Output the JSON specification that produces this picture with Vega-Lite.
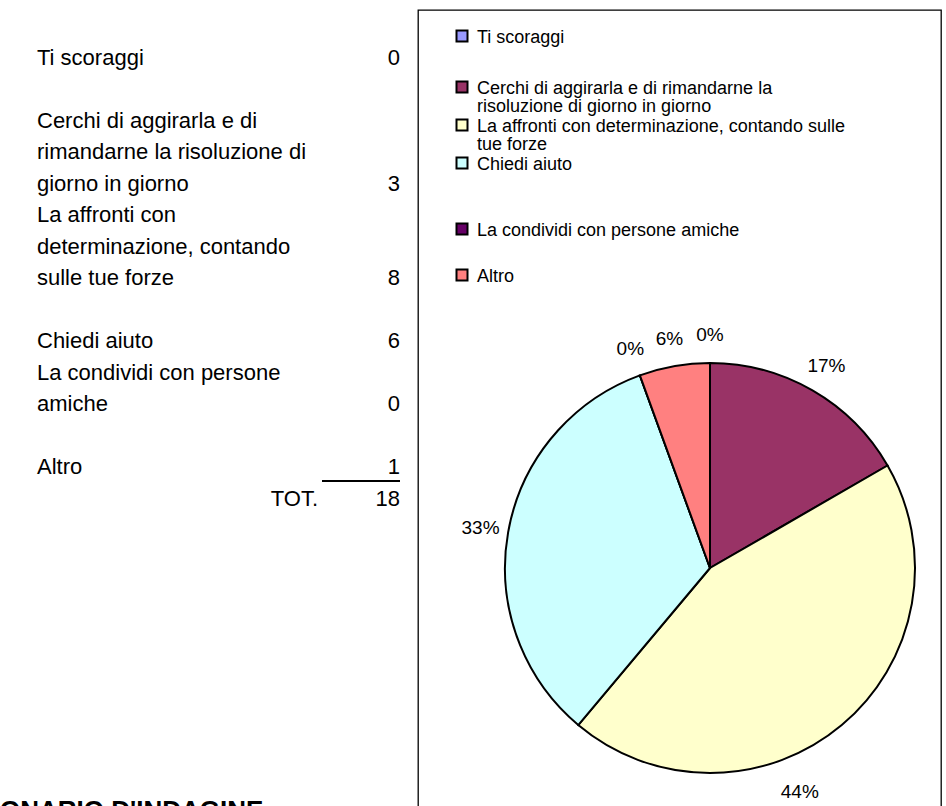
{
  "$schema": "https://vega.github.io/schema/vega-lite/v6.json",
  "padding": {"left": 0, "top": 9, "right": 5, "bottom": 0},
  "autosize": {"type": "pad"},
  "bounds": "flush",
  "spacing": 0,
  "background": "white",
  "config": {
    "view": {"stroke": null},
    "font": "Liberation Sans",
    "text": {"font": "Liberation Sans", "color": "black"}
  },
  "datasets": {
    "risposte": [
      {"ordine": 1, "voce": "Ti scoraggi", "n": 0, "perc": "0%"},
      {"ordine": 2, "voce": "Cerchi di aggirarla e di rimandarne la risoluzione di giorno in giorno", "n": 3, "perc": "17%"},
      {"ordine": 3, "voce": "La affronti con determinazione, contando sulle tue forze", "n": 8, "perc": "44%"},
      {"ordine": 4, "voce": "Chiedi aiuto", "n": 6, "perc": "33%"},
      {"ordine": 5, "voce": "La condividi con persone amiche", "n": 0, "perc": "0%"},
      {"ordine": 6, "voce": "Altro", "n": 1, "perc": "6%"}
    ],
    "tabella": [
      {"riga": 0, "colonna": "voce", "testo": "Ti scoraggi"},
      {"riga": 0, "colonna": "numero", "testo": "0"},
      {"riga": 2, "colonna": "voce", "testo": "Cerchi di aggirarla e di"},
      {"riga": 3, "colonna": "voce", "testo": "rimandarne la risoluzione di"},
      {"riga": 4, "colonna": "voce", "testo": "giorno in giorno"},
      {"riga": 4, "colonna": "numero", "testo": "3"},
      {"riga": 5, "colonna": "voce", "testo": "La affronti con"},
      {"riga": 6, "colonna": "voce", "testo": "determinazione, contando"},
      {"riga": 7, "colonna": "voce", "testo": "sulle tue forze"},
      {"riga": 7, "colonna": "numero", "testo": "8"},
      {"riga": 9, "colonna": "voce", "testo": "Chiedi aiuto"},
      {"riga": 9, "colonna": "numero", "testo": "6"},
      {"riga": 10, "colonna": "voce", "testo": "La condividi con persone"},
      {"riga": 11, "colonna": "voce", "testo": "amiche"},
      {"riga": 11, "colonna": "numero", "testo": "0"},
      {"riga": 13, "colonna": "voce", "testo": "Altro"},
      {"riga": 13, "colonna": "numero", "testo": "1"},
      {"riga": 14, "colonna": "totale", "testo": "TOT."},
      {"riga": 14, "colonna": "numero", "testo": "18"},
      {"riga": 24, "colonna": "titolo", "testo": "ONARIO D'INDAGINE"}
    ]
  },
  "hconcat": [
    {
      "width": 418,
      "height": 797,
      "data": {"name": "tabella"},
      "encoding": {
        "y": {"field": "riga", "type": "quantitative", "scale": {"domain": [-1.5238, 23.7778], "reverse": true, "zero": false, "nice": false}, "axis": null}
      },
      "layer": [
        {
          "transform": [{"filter": "datum.colonna == 'voce'"}],
          "mark": {"type": "text", "align": "left", "baseline": "middle", "fontSize": 22},
          "encoding": {
            "x": {"field": "colonna", "type": "nominal", "scale": {"type": "point", "domain": ["voce", "numero"], "range": [37, 400], "padding": 0}, "axis": null},
            "text": {"field": "testo"}
          }
        },
        {
          "transform": [{"filter": "datum.colonna == 'numero'"}],
          "mark": {"type": "text", "align": "right", "baseline": "middle", "fontSize": 22},
          "encoding": {
            "x": {"field": "colonna", "type": "nominal", "axis": null},
            "text": {"field": "testo"}
          }
        },
        {
          "transform": [{"filter": "datum.colonna == 'totale'"}],
          "mark": {"type": "text", "align": "right", "baseline": "middle", "fontSize": 22, "dx": -82},
          "encoding": {
            "x": {"datum": "numero"},
            "text": {"field": "testo"}
          }
        },
        {
          "transform": [{"filter": "datum.testo == '18'"}],
          "mark": {"type": "rule", "color": "black", "strokeWidth": 2, "xOffset": -78, "yOffset": -18, "y2Offset": -18},
          "encoding": {
            "x": {"datum": "numero"},
            "x2": {"datum": "numero"},
            "y2": {"field": "riga"}
          }
        },
        {
          "transform": [{"filter": "datum.colonna == 'titolo'"}],
          "mark": {"type": "text", "align": "left", "baseline": "middle", "fontSize": 26, "fontWeight": "bold", "dx": -37, "dy": -3, "clip": true},
          "encoding": {
            "x": {"datum": "voce"},
            "text": {"field": "testo"}
          }
        }
      ]
    },
    {
      "width": 523,
      "height": 797,
      "view": {"stroke": "black", "strokeWidth": 1.3},
      "data": {"name": "risposte"},
      "encoding": {
        "theta": {"field": "n", "type": "quantitative", "stack": true},
        "order": {"field": "ordine", "type": "quantitative"},
        "x": {"value": 292},
        "y": {"value": 558}
      },
      "layer": [
        {
          "mark": {"type": "arc", "outerRadius": 205, "stroke": "black", "strokeWidth": 2},
          "encoding": {
            "color": {
              "field": "voce",
              "type": "nominal",
              "scale": {
                "domain": ["Ti scoraggi", "Cerchi di aggirarla e di rimandarne la risoluzione di giorno in giorno", "La affronti con determinazione, contando sulle tue forze", "Chiedi aiuto", "La condividi con persone amiche", "Altro"],
                "range": ["#9999FF", "#993366", "#FFFFCC", "#CCFFFF", "#660066", "#FF8080"]
              },
              "legend": {
                "orient": "none",
                "legendX": 453,
                "legendY": 17,
                "title": null,
                "padding": 0,
                "symbolType": "square",
                "symbolSize": 121,
                "symbolStrokeColor": "black",
                "symbolStrokeWidth": 2,
                "symbolOpacity": 1,
                "labelFont": "Liberation Sans",
                "labelFontSize": 18,
                "labelColor": "black",
                "labelLimit": 600,
                "labelOffset": 6,
                "labelBaseline": "alphabetic",
                "rowPadding": -6,
                "labelExpr": "datum.label == 'Ti scoraggi' ? ['Ti scoraggi', ''] : datum.label == 'Cerchi di aggirarla e di rimandarne la risoluzione di giorno in giorno' ? ['Cerchi di aggirarla e di rimandarne la', 'risoluzione di giorno in giorno'] : datum.label == 'La affronti con determinazione, contando sulle tue forze' ? ['La affronti con determinazione, contando sulle', 'tue forze'] : datum.label == 'Chiedi aiuto' ? ['Chiedi aiuto', ''] : datum.label == 'La condividi con persone amiche' ? ['La condividi con persone amiche', ''] : datum.label",
                "encode": {
                  "labels": {
                    "update": {
                      "dy": {"value": 6.5},
                      "lineHeight": {"signal": "datum.value == 'Ti scoraggi' ? 31.5 : datum.value == 'Chiedi aiuto' ? 46.5 : datum.value == 'La condividi con persone amiche' ? 26.5 : 18.5"}
                    }
                  }
                }
              }
            }
          }
        },
        {
          "mark": {"type": "text", "radius": 233, "fontSize": 19, "align": "center", "baseline": "middle"},
          "encoding": {
            "text": {"condition": {"test": "datum.n == 8", "value": ""}, "field": "perc"}
          }
        },
        {
          "mark": {"type": "text", "radius": 233, "fontSize": 19, "align": "center", "baseline": "middle", "dx": -60, "dy": 46},
          "encoding": {
            "text": {"condition": {"test": "datum.n != 8", "value": ""}, "field": "perc"}
          }
        }
      ]
    }
  ]
}
